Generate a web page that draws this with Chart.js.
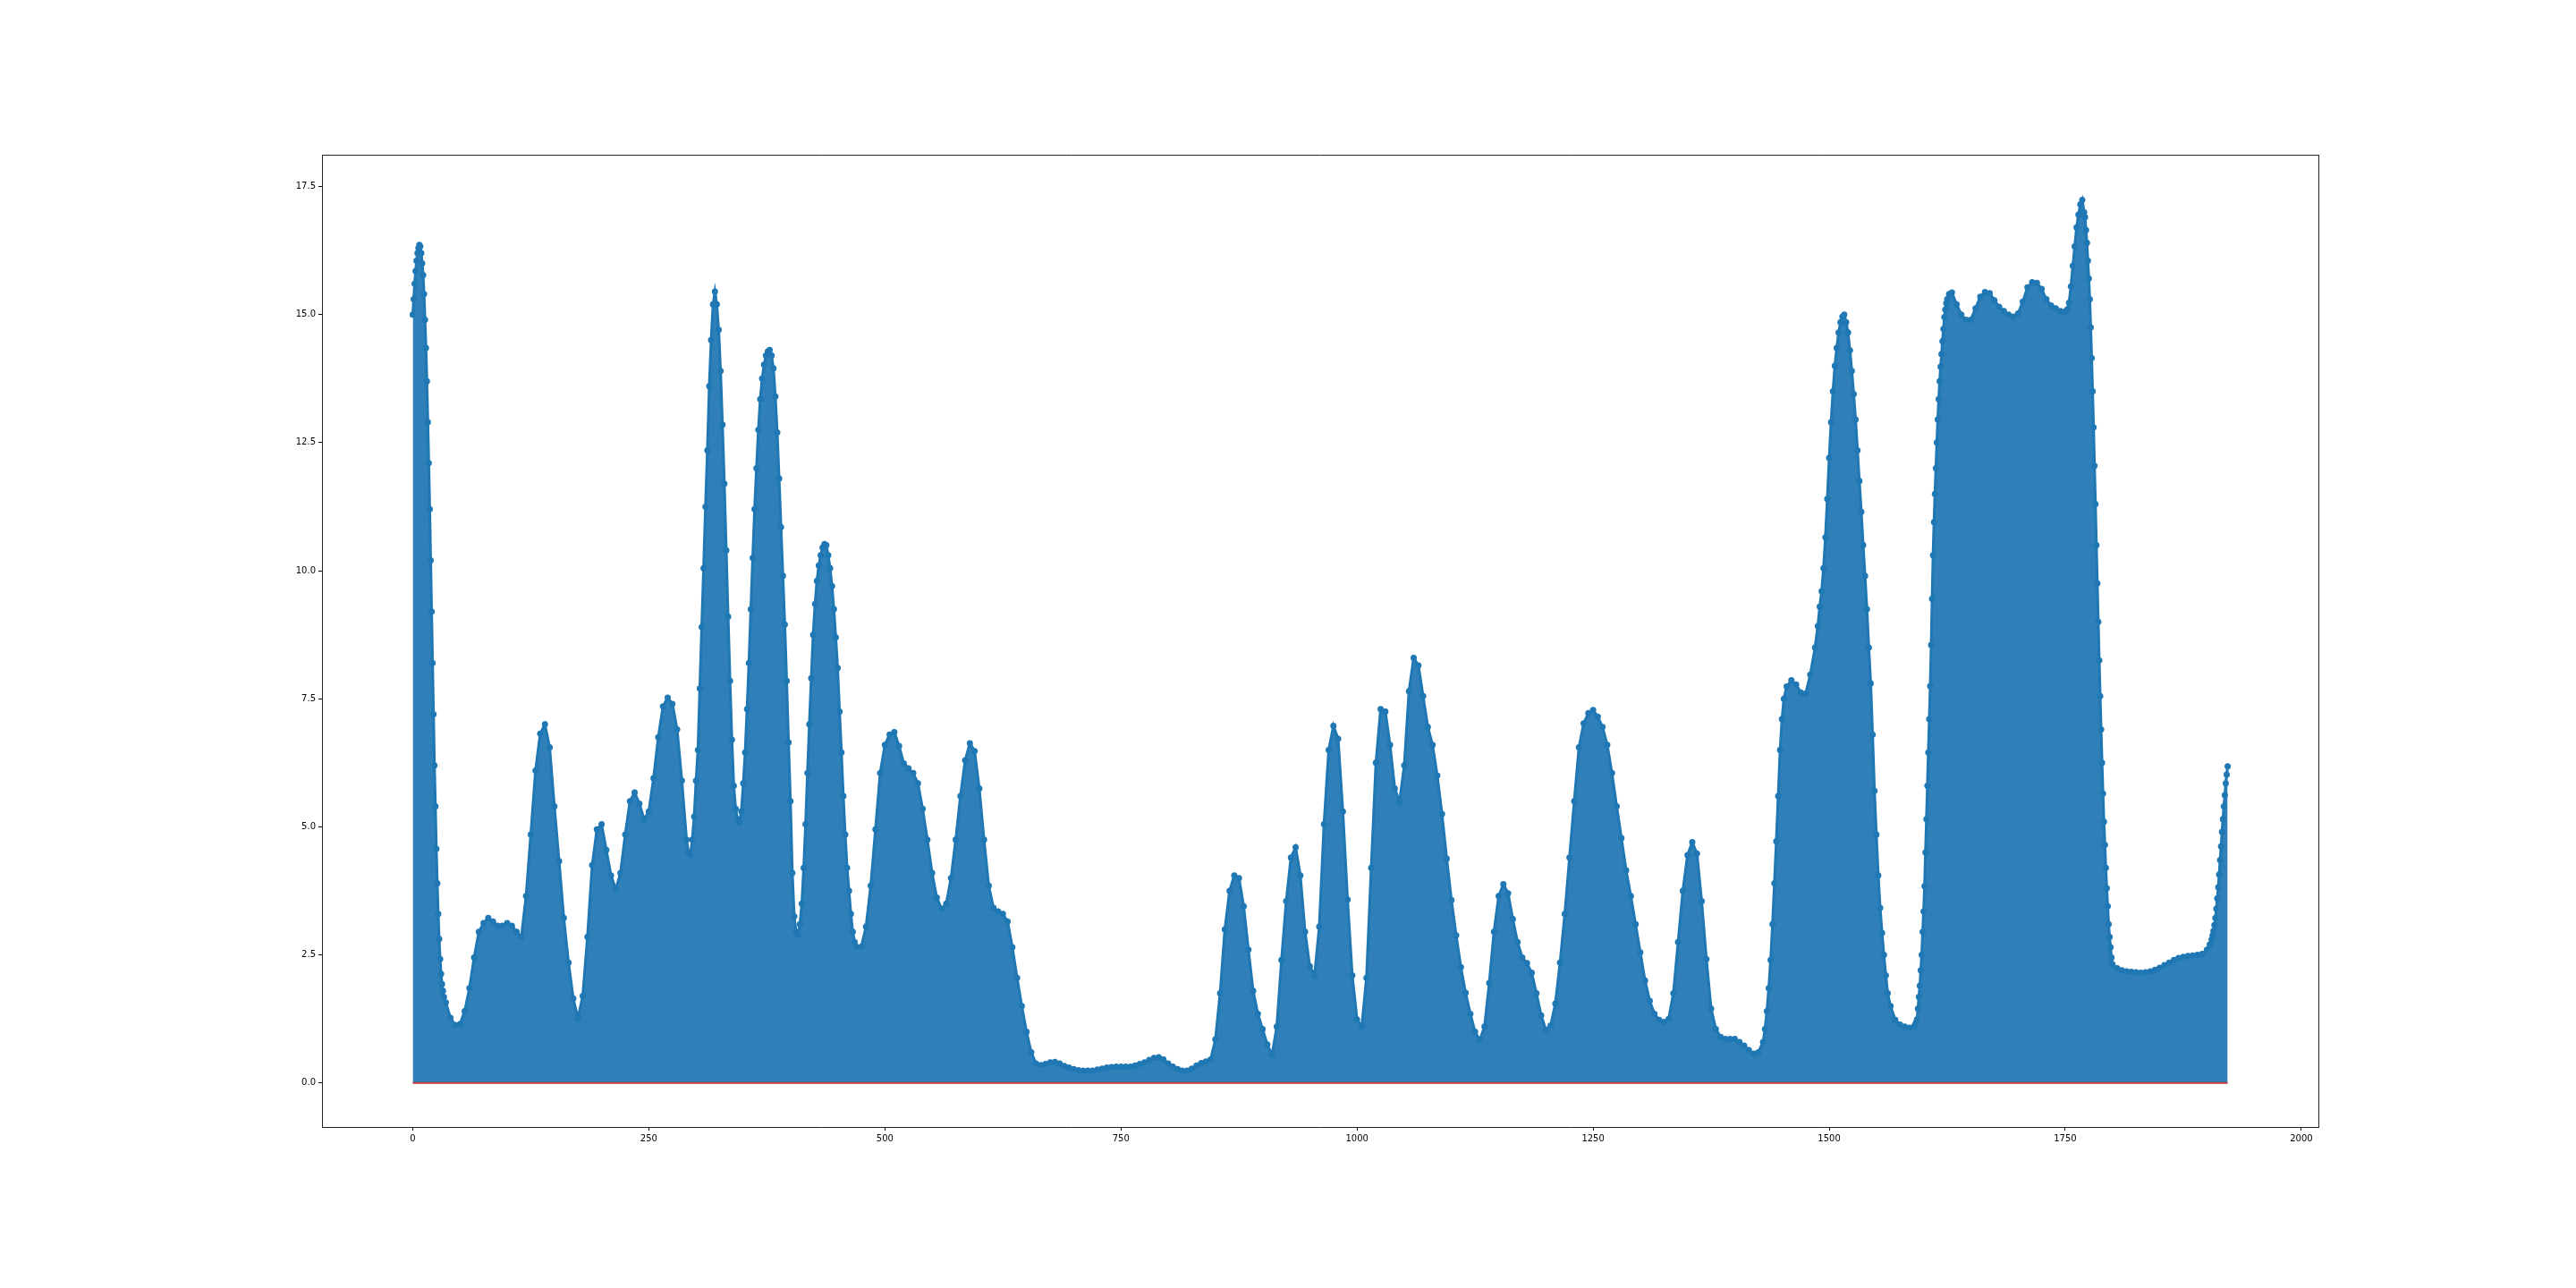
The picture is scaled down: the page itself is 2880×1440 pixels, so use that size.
<!DOCTYPE html>
<html lang="en">

<head>
    <meta charset="UTF-8">
    <title>Stem plot</title>
    <script src="https://cdn.jsdelivr.net/npm/chart.js@4.4.1/dist/chart.umd.min.js"></script>
    <style>
        body { margin: 0; background: #fff; }
        canvas { display: block; }
    </style>
</head>

<body>
    <canvas id="stemChart" width="2880" height="1440"></canvas>

    <script>
        // sample positions (finer where the curve is steep)
        const stemX = [
            0, 1, 2, 3, 4, 5, 6, 7, 8, 9, 10, 11, 12, 13, 14, 15, 16, 17, 18, 19, 20, 21, 22, 23, 24, 25, 26, 27, 28, 29, 30, 31, 32, 33,
            35, 40, 45, 50, 55, 60, 65, 70, 75, 80, 85, 90, 95, 100, 105, 110, 115, 120, 125, 130, 135, 140, 145, 150, 155, 160,
            165, 170, 175, 180, 185, 190, 195, 200, 205, 210, 215, 220, 225, 230, 235, 240, 245, 250, 255, 260, 265, 270, 275, 280, 285, 290,
            292, 294, 296, 298, 300, 302, 304, 306, 308, 310,
            312, 314, 316, 318, 320, 322, 324, 326, 328, 330,
            332, 334, 336, 338, 340, 342, 344, 346, 348, 350,
            352, 354, 356, 358, 360, 362, 364, 366, 368, 370,
            372, 374, 376, 378, 380, 382, 384, 386, 388, 390,
            392, 394, 396, 398, 400, 402, 404, 406, 408, 410,
            412, 414, 416, 418, 420, 422, 424, 426, 428, 430,
            432, 434, 436, 438, 440, 442, 444, 446, 448, 450,
            452, 454, 456, 458, 460, 462, 464, 466, 468, 470,
            475, 480, 485, 490, 495, 500, 505, 510, 515, 520,
            525, 530, 535, 540, 545, 550, 555, 560, 565, 570,
            575, 580, 585, 590, 595, 600, 605, 610, 615, 620,
            625, 630, 635, 640, 645, 650, 655, 660, 665, 670,
            675, 680, 685, 690, 695, 700, 705, 710, 715, 720,
            725, 730, 735, 740, 745, 750, 755, 760, 765, 770,
            775, 780, 785, 790, 795, 800, 805, 810, 815, 820,
            825, 830, 835, 840, 845, 850, 855, 860, 865, 870,
            875, 880, 885, 890, 895, 900, 905, 910,
            915, 920, 925, 930, 935, 940, 945, 950, 955, 960,
            965, 970, 975, 980, 985, 990, 995, 1000, 1005, 1010,
            1015, 1020, 1025, 1030, 1035, 1040, 1045, 1050, 1055, 1060,
            1065, 1070, 1075, 1080, 1085, 1090, 1095, 1100, 1105, 1110,
            1115, 1120, 1125, 1130, 1135, 1140, 1145, 1150, 1155, 1160,
            1165, 1170, 1175, 1180, 1185, 1190, 1195, 1200, 1205, 1210,
            1215, 1220, 1225, 1230, 1235, 1240, 1245, 1250, 1255, 1260,
            1265, 1270, 1275, 1280, 1285, 1290, 1295, 1300, 1305, 1310,
            1315, 1320, 1325, 1330, 1335, 1340, 1345, 1350, 1355, 1360,
            1365, 1370, 1375, 1380, 1385, 1390, 1395, 1400, 1405, 1410,
            1415, 1420, 1425,
            1430, 1432, 1434, 1436, 1438, 1440, 1442, 1444, 1446, 1448, 1450, 1452,
            1455, 1460, 1465, 1470, 1475, 1480, 1485,
            1488, 1490, 1492, 1494, 1496, 1498, 1500, 1502, 1504, 1506,
            1508, 1510, 1512, 1514, 1516, 1518, 1520, 1522, 1524, 1526,
            1528, 1530, 1532, 1534, 1536, 1538, 1540, 1542, 1544, 1546,
            1548, 1550, 1552, 1554, 1556, 1558, 1560, 1562,
            1565, 1570, 1575, 1580, 1585, 1590,
            1591, 1592, 1593, 1594, 1595, 1596, 1597, 1598, 1599, 1600,
            1601, 1602, 1603, 1604, 1605, 1606, 1607, 1608, 1609, 1610,
            1611, 1612, 1613, 1614, 1615, 1616, 1617, 1618, 1619, 1620,
            1621, 1622, 1623, 1624, 1625,
            1627,
            1630, 1635, 1640, 1645, 1650, 1655, 1660, 1665, 1670, 1675,
            1680, 1685, 1690, 1695, 1700, 1705, 1710, 1715, 1720, 1725,
            1730, 1735, 1740, 1745, 1750,
            1752, 1754, 1756, 1758, 1760, 1762, 1764, 1766, 1768,
            1770, 1771, 1772, 1773, 1774, 1775, 1776, 1777, 1778, 1779,
            1780, 1781, 1782, 1783, 1784, 1785, 1786, 1787, 1788, 1789,
            1790, 1791, 1792, 1793, 1794, 1795, 1796, 1797, 1798, 1799,
            1800,
            1805, 1810, 1815, 1820, 1825, 1830, 1835, 1840, 1845, 1850,
            1855, 1860, 1865, 1870, 1875, 1880, 1885, 1890, 1895, 1900,
            1903,
            1905, 1906, 1907, 1908, 1909, 1910, 1911, 1912, 1913, 1914,
            1915, 1916, 1917, 1918, 1919, 1920, 1921, 1922
        ];

        const stemY = [
            15.0, 15.3, 15.6, 15.85, 16.05, 16.2, 16.3, 16.36, 16.33, 16.2, 16.0, 15.77, 15.4, 14.9, 14.35, 13.7, 12.9, 12.1, 11.2, 10.2, 9.2, 8.2, 7.2, 6.2, 5.4, 4.57, 3.9, 3.3, 2.81, 2.42, 2.13, 1.93, 1.8, 1.68,
            1.57, 1.27, 1.13, 1.15, 1.4, 1.85, 2.45, 2.95, 3.12, 3.22, 3.15, 3.07, 3.07, 3.12, 3.07, 2.95, 2.85, 3.65, 4.85, 6.1, 6.82, 7.0, 6.55, 5.4, 4.33, 3.22,
            2.35, 1.65, 1.26, 1.7, 2.85, 4.25, 4.95, 5.05, 4.55, 4.05, 3.78, 4.1, 4.85, 5.5, 5.67, 5.45, 5.15, 5.3, 5.95, 6.75, 7.35, 7.52, 7.4, 6.9, 5.9, 4.75,
            4.5, 4.45, 4.75, 5.2, 5.9, 6.5, 7.7, 8.9, 10.05, 11.25,
            12.35, 13.6, 14.5, 15.2, 15.45, 15.2, 14.7, 13.9, 12.85, 11.7,
            10.4, 9.1, 7.85, 6.7, 5.8, 5.35, 5.15, 5.08, 5.3, 5.85,
            6.45, 7.3, 8.2, 9.25, 10.25, 11.2, 12.0, 12.75, 13.35, 13.75,
            14.02, 14.2, 14.28, 14.31, 14.2, 13.95, 13.4, 12.7, 11.8, 10.85,
            9.9, 8.95, 7.85, 6.65, 5.5, 4.1, 3.25, 2.95, 2.89, 3.1,
            3.5, 4.2, 5.05, 6.05, 7.0, 7.9, 8.75, 9.35, 9.8, 10.1,
            10.3, 10.45, 10.52, 10.5, 10.3, 10.05, 9.7, 9.25, 8.7, 8.1,
            7.25, 6.45, 5.6, 4.85, 4.2, 3.75, 3.3, 2.95, 2.75, 2.66,
            2.66, 3.05, 3.85, 4.95, 6.05, 6.6, 6.8, 6.85, 6.58, 6.24,
            6.14, 6.05, 5.85, 5.35, 4.75, 4.1, 3.62, 3.4, 3.5, 4.0,
            4.75, 5.6, 6.3, 6.63, 6.48, 5.75, 4.75, 3.85, 3.42, 3.35,
            3.3, 3.15, 2.65, 2.05, 1.5, 1.0, 0.6, 0.38, 0.35, 0.37,
            0.4, 0.41, 0.38, 0.33, 0.3, 0.27, 0.25, 0.24, 0.24, 0.24,
            0.26, 0.28, 0.3, 0.31, 0.32, 0.32, 0.32, 0.32, 0.34, 0.37,
            0.4, 0.45, 0.49, 0.5, 0.46, 0.38, 0.32, 0.27, 0.24, 0.24,
            0.28, 0.34, 0.39, 0.42, 0.46, 0.85, 1.75, 3.0, 3.75, 4.05,
            4.0, 3.45, 2.6, 1.8, 1.35, 1.05, 0.75, 0.55,
            1.1, 2.4, 3.55, 4.4, 4.6, 4.05, 2.95, 2.28, 2.1, 3.05,
            5.05, 6.5, 6.97, 6.72, 5.3, 3.58, 2.1, 1.24, 1.1, 2.05,
            4.2, 6.25, 7.3, 7.25, 6.6, 5.75, 5.49, 6.2, 7.65, 8.3,
            8.15, 7.55, 6.95, 6.6, 6.0, 5.25, 4.38, 3.57, 2.88, 2.26,
            1.76, 1.35, 1.0, 0.84, 1.1, 1.95, 2.95, 3.65, 3.88, 3.7,
            3.2, 2.75, 2.45, 2.34, 2.15, 1.75, 1.32, 1.04, 1.12, 1.55,
            2.35, 3.3, 4.4, 5.5, 6.55, 7.02, 7.22, 7.28, 7.15, 6.95,
            6.6, 6.05, 5.4, 4.78, 4.15, 3.65, 3.1, 2.55, 2.0, 1.6,
            1.35, 1.23, 1.19, 1.25, 1.75, 2.75, 3.75, 4.45, 4.7, 4.48,
            3.55, 2.42, 1.45, 1.05, 0.9, 0.86, 0.86, 0.86, 0.8, 0.73,
            0.64, 0.57, 0.6,
            0.8, 1.05, 1.4, 1.85, 2.4, 3.1, 3.9, 4.72, 5.6, 6.5, 7.1, 7.5,
            7.74, 7.86, 7.78, 7.62, 7.6, 7.97, 8.5,
            8.92, 9.3, 9.6, 10.05, 10.65, 11.4, 12.2, 12.9, 13.5, 14.0,
            14.35, 14.65, 14.85, 14.96, 15.0, 14.85, 14.65, 14.3, 13.9, 13.45,
            12.95, 12.35, 11.75, 11.15, 10.5, 9.9, 9.25, 8.5, 7.8, 6.8,
            5.7, 4.85, 4.05, 3.42, 2.93, 2.5, 2.1, 1.75,
            1.5, 1.23, 1.14, 1.1, 1.08, 1.1,
            1.14, 1.18, 1.24, 1.45, 1.68, 1.9, 2.2, 2.5, 2.95, 3.35,
            3.84, 4.5, 5.15, 5.8, 6.45, 7.1, 7.75, 8.55, 9.45, 10.3,
            10.95, 11.5, 12.0, 12.5, 12.95, 13.35, 13.7, 13.98, 14.23, 14.48,
            14.72, 14.95, 15.1, 15.22, 15.3,
            15.4,
            15.43, 15.2, 15.0, 14.9, 14.9, 15.12, 15.35, 15.44, 15.42, 15.28,
            15.15, 15.07, 15.0, 14.96, 15.02, 15.25, 15.53, 15.63, 15.62, 15.5,
            15.3, 15.18, 15.12, 15.07, 15.06,
            15.1, 15.23, 15.55, 15.95, 16.33, 16.7, 16.95, 17.15, 17.24,
            17.0, 16.9, 16.65, 16.4, 16.05, 15.7, 15.3, 14.75, 14.15, 13.5,
            12.8, 12.05, 11.3, 10.5, 9.75, 9.0, 8.25, 7.55, 6.9, 6.25,
            5.65, 5.1, 4.65, 4.2, 3.8, 3.45, 3.1, 2.85, 2.65, 2.45,
            2.32,
            2.24, 2.2, 2.18, 2.17, 2.16, 2.15, 2.16, 2.18, 2.21, 2.25,
            2.3, 2.35, 2.4, 2.44, 2.46, 2.48, 2.49, 2.5, 2.52, 2.6,
            2.7,
            2.8, 2.88, 2.97, 3.08, 3.22, 3.4, 3.6, 3.82, 4.07, 4.35,
            4.62, 4.9, 5.15, 5.4, 5.62, 5.85, 6.02, 6.18
        ];

        const xTicks = [0, 250, 500, 750, 1000, 1250, 1500, 1750, 2000];
        const xTickLabels = ['0', '250', '500', '750', '1000', '1250', '1500', '1750', '2000'];
        const yTicks = [0, 2.5, 5, 7.5, 10, 12.5, 15, 17.5];
        const yTickLabels = ['0.0', '2.5', '5.0', '7.5', '10.0', '12.5', '15.0', '17.5'];

        if (stemX.length !== stemY.length) {
            throw new Error('stemX ' + stemX.length + ' vs stemY ' + stemY.length);
        }

        var points = stemX.map(function (x, i) {
            return { x: x, y: stemY[i] };
        });
        var baseLine = [{ x: stemX[0], y: 0 }, { x: stemX[stemX.length - 1], y: 0 }];

        var xMin = -96.1, xMax = 2018.1;
        var yMin = -0.86, yMax = 18.12;

        Chart.defaults.font.family = 'DejaVu Sans';
        Chart.defaults.font.size = 10;
        Chart.defaults.color = '#000';

        var tickGrid = {
            display: true,
            drawOnChartArea: false,
            drawTicks: true,
            tickLength: 4,
            tickColor: '#000',
            tickWidth: 1
        };
        var frame = { display: true, color: '#222', width: 1 };

        var ctx = document.getElementById('stemChart').getContext('2d');
        var stemChart = new Chart(ctx, {
            type: 'line',
            data: {
                datasets: [{
                    // baseline
                    data: baseLine,
                    borderColor: '#c4373d',
                    borderWidth: 2,
                    pointRadius: 0,
                    order: 0
                }, {
                    // dense stems shown as the area under the markers
                    data: points,
                    fill: 'origin',
                    backgroundColor: '#2f80b9',
                    borderColor: '#1f77b4',
                    borderWidth: 3,
                    tension: 0,
                    pointRadius: 3.5,
                    pointBackgroundColor: '#1f77b4',
                    pointBorderWidth: 0,
                    order: 1
                }]
            },
            options: {
                responsive: false,
                animation: false,
                devicePixelRatio: 1,
                layout: { padding: { left: 290, right: 288, top: 173, bottom: 140 } },
                plugins: { legend: { display: false }, tooltip: { enabled: false } },
                scales: {
                    x: {
                        type: 'linear',
                        position: 'bottom',
                        min: xMin,
                        max: xMax,
                        offset: false,
                        grid: tickGrid,
                        border: frame,
                        afterBuildTicks: function (s) {
                            s.ticks = xTicks.map(function (v) { return { value: v }; });
                        },
                        afterFit: function (s) { s.height = 40; },
                        ticks: {
                            autoSkip: false,
                            maxRotation: 0,
                            padding: 3,
                            callback: function (v) { return xTickLabels[xTicks.indexOf(v)]; }
                        }
                    },
                    xTop: {
                        type: 'linear',
                        position: 'top',
                        min: xMin,
                        max: xMax,
                        grid: { display: false },
                        border: frame,
                        ticks: { display: false },
                        afterFit: function (s) { s.height = 0; }
                    },
                    y: {
                        type: 'linear',
                        position: 'left',
                        min: yMin,
                        max: yMax,
                        grid: tickGrid,
                        border: frame,
                        afterBuildTicks: function (s) {
                            s.ticks = yTicks.map(function (v) { return { value: v }; });
                        },
                        afterFit: function (s) { s.width = 70; },
                        ticks: {
                            autoSkip: false,
                            padding: 3,
                            callback: function (v) { return yTickLabels[yTicks.indexOf(v)]; }
                        }
                    },
                    yRight: {
                        type: 'linear',
                        position: 'right',
                        min: yMin,
                        max: yMax,
                        grid: { display: false },
                        border: frame,
                        ticks: { display: false },
                        afterFit: function (s) { s.width = 0; }
                    }
                }
            }
        });
    </script>
</body>

</html>
